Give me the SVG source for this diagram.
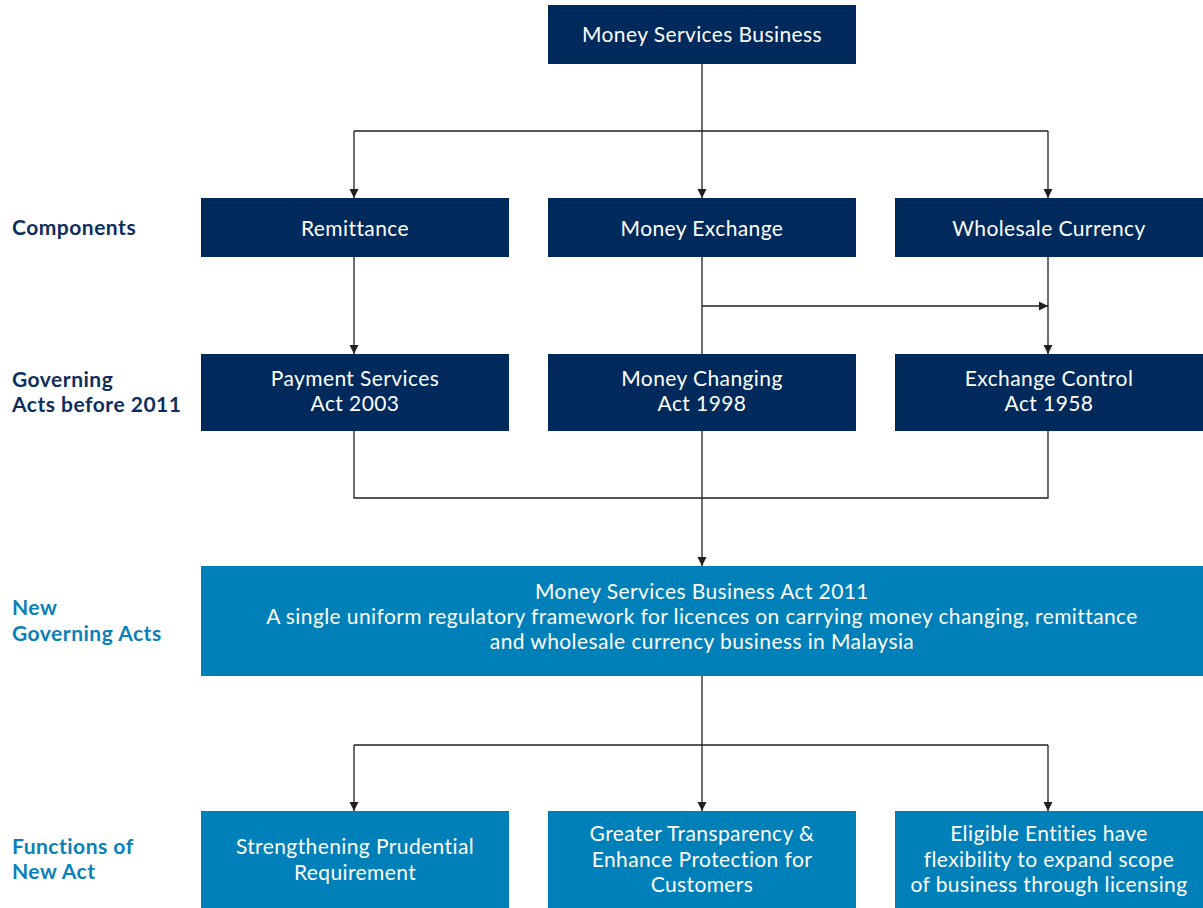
<svg xmlns="http://www.w3.org/2000/svg" width="1203" height="908" viewBox="0 0 1203 908">
<defs>
<marker id="arr" viewBox="0 0 10 10" refX="10" refY="5" markerWidth="9" markerHeight="13" markerUnits="userSpaceOnUse" orient="auto">
<path d="M0,0 L10,5 L0,10 z" fill="#231f20"/>
</marker>
<style>
.dk{fill:#002a5c}
.lt{fill:#0080b8}
.bt{font-family:Lato,"Noto Sans",sans-serif;font-size:21px;letter-spacing:0.4px;fill:#ffffff;text-anchor:middle}
.lb{font-family:Lato,"Noto Sans",sans-serif;font-size:21px;letter-spacing:0.5px;font-weight:bold}
.ld{fill:#0e2f5e}
.ll{fill:#0a80b8}
.cn{fill:none;stroke:#231f20;stroke-width:1.3}
</style>
</defs>
<rect width="1203" height="908" fill="#ffffff"/>
<g id="labels">
<text class="lb ld" x="12" y="235">Components</text>
<text class="lb ld" x="12" y="387">Governing</text>
<text class="lb ld" x="12" y="412">Acts before 2011</text>
<text class="lb ll" x="12" y="615">New</text>
<text class="lb ll" x="12" y="641">Governing Acts</text>
<text class="lb ll" x="12" y="854">Functions of</text>
<text class="lb ll" x="12" y="879">New Act</text>
</g>
<g id="connectors">
<path class="cn" d="M702,64 V131"/>
<path class="cn" d="M354,131 H1048"/>
<path class="cn" d="M354,131 V198" marker-end="url(#arr)"/>
<path class="cn" d="M702,131 V198" marker-end="url(#arr)"/>
<path class="cn" d="M1048,131 V198" marker-end="url(#arr)"/>
<path class="cn" d="M354,257 V354" marker-end="url(#arr)"/>
<path class="cn" d="M702,257 V354"/>
<path class="cn" d="M702,306 H1048" marker-end="url(#arr)"/>
<path class="cn" d="M1048,257 V354" marker-end="url(#arr)"/>
<path class="cn" d="M354,431 V498 H1048 V431"/>
<path class="cn" d="M702,431 V566" marker-end="url(#arr)"/>
<path class="cn" d="M702,676 V745"/>
<path class="cn" d="M354,745 H1048"/>
<path class="cn" d="M354,745 V811" marker-end="url(#arr)"/>
<path class="cn" d="M702,745 V811" marker-end="url(#arr)"/>
<path class="cn" d="M1048,745 V811" marker-end="url(#arr)"/>
</g>
<g id="msb"><rect class="dk" x="548" y="5" width="308" height="59"/><text class="bt" x="702" y="42">Money Services Business</text></g>
<g id="remittance"><rect class="dk" x="201" y="198" width="308" height="59"/><text class="bt" x="355" y="236">Remittance</text></g>
<g id="money-exchange"><rect class="dk" x="548" y="198" width="308" height="59"/><text class="bt" x="702" y="236">Money Exchange</text></g>
<g id="wholesale"><rect class="dk" x="895" y="198" width="308" height="59"/><text class="bt" x="1049" y="236">Wholesale Currency</text></g>
<g id="psa"><rect class="dk" x="201" y="354" width="308" height="77"/><text class="bt" x="355" y="386">Payment Services</text><text class="bt" x="355" y="411">Act 2003</text></g>
<g id="mca"><rect class="dk" x="548" y="354" width="308" height="77"/><text class="bt" x="702" y="386">Money Changing</text><text class="bt" x="702" y="411">Act 1998</text></g>
<g id="eca"><rect class="dk" x="895" y="354" width="308" height="77"/><text class="bt" x="1049" y="386">Exchange Control</text><text class="bt" x="1049" y="411">Act 1958</text></g>
<g id="msba"><rect class="lt" x="201" y="566" width="1002" height="110"/>
<text class="bt" x="702" y="599">Money Services Business Act 2011</text>
<text class="bt" x="702" y="624">A single uniform regulatory framework for licences on carrying money changing, remittance</text>
<text class="bt" x="702" y="649">and wholesale currency business in Malaysia</text></g>
<g id="f1"><rect class="lt" x="201" y="811" width="308" height="97"/><text class="bt" x="355" y="854">Strengthening Prudential</text><text class="bt" x="355" y="880">Requirement</text></g>
<g id="f2"><rect class="lt" x="548" y="811" width="308" height="97"/><text class="bt" x="702" y="841">Greater Transparency &amp;</text><text class="bt" x="702" y="867">Enhance Protection for</text><text class="bt" x="702" y="892">Customers</text></g>
<g id="f3"><rect class="lt" x="895" y="811" width="308" height="97"/><text class="bt" x="1049" y="841">Eligible Entities have</text><text class="bt" x="1049" y="867">flexibility to expand scope</text><text class="bt" x="1049" y="892">of business through licensing</text></g>
</svg>
